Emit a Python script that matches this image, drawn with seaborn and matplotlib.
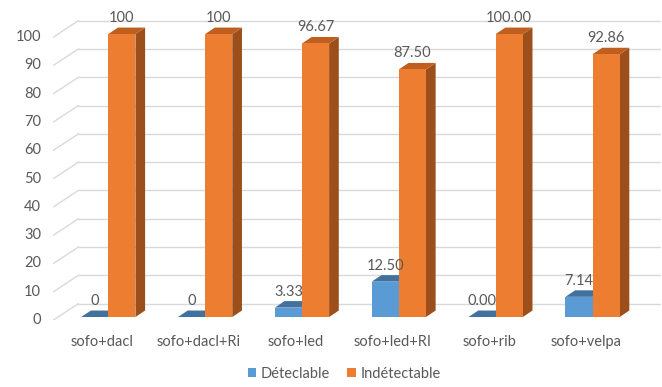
"""
Histogramme 3D (style Excel) : Déteclable / Indétectable par protocole
"""

import pandas as pd
import seaborn as sns
import matplotlib.pyplot as plt
from matplotlib.patches import Polygon, Patch

# Données
categories = ['sofo+dacl', 'sofo+dacl+Ri', 'sofo+led', 'sofo+led+RI', 'sofo+rib', 'sofo+velpa']
series = ['Déteclable', 'Indétectable']
val_detectable = [0, 0, 3.33, 12.50, 0.00, 7.14]
val_indetectable = [100, 100, 96.67, 87.50, 100.00, 92.86]
lab_detectable = ['0', '0', '3.33', '12.50', '0.00', '7.14']
lab_indetectable = ['100', '100', '96.67', '87.50', '100.00', '92.86']
yticks = list(range(0, 101, 10))

# Couleurs (face, dessus, côté)
couleurs = {
    'Déteclable': ('#5b9bd5', '#41719c', '#3a6893'),
    'Indétectable': ('#ed7d31', '#bf5f1f', '#9c4f1b'),
}
gris_texte = '#595959'
gris_grille = '#d9d9d9'

# Profondeur (unités de données)
MUR_X, MUR_Y = 0.258, 5.8      # profondeur du mur du fond
DECAL_X, DECAL_Y = 0.066, 1.05  # décalage de la face avant des barres
PROF_X, PROF_Y = 0.10, 2.3      # épaisseur des barres


def construire_df():
    df = pd.DataFrame({
        'Catégorie': categories * 2,
        'Série': [series[0]] * len(categories) + [series[1]] * len(categories),
        'Valeur': val_detectable + val_indetectable,
    })
    return df


def tracer_grille(ax):
    x0 = -0.5
    x1 = len(categories) - 0.5 + MUR_X
    for v in yticks:
        ax.plot([x0, x0 + MUR_X], [v, v + MUR_Y], color=gris_grille, lw=1, zorder=0)
        ax.plot([x0 + MUR_X, x1], [v + MUR_Y, v + MUR_Y], color=gris_grille, lw=1, zorder=0)


def habiller_barres_3d(ax):
    """Ajoute le dessus, le côté et l'étiquette de chaque barre tracée par seaborn"""
    etiquettes = [lab_detectable, lab_indetectable]
    for s, conteneur in enumerate(ax.containers):
        face, dessus, cote = couleurs[series[s]]
        for i, p in enumerate(conteneur.patches):
            k = 2 * i + s
            x = p.get_x() + DECAL_X
            w = p.get_width()
            h = p.get_height()
            p.set_x(x)
            p.set_y(DECAL_Y)
            p.set_facecolor(face)
            p.set_edgecolor('none')
            p.set_zorder(3 + 3 * k)
            y0, y1 = DECAL_Y, DECAL_Y + h
            ax.add_patch(Polygon([(x + w, y0), (x + w + PROF_X, y0 + PROF_Y),
                                  (x + w + PROF_X, y1 + PROF_Y), (x + w, y1)],
                                 closed=True, facecolor=cote, edgecolor='none', zorder=1 + 3 * k))
            ax.add_patch(Polygon([(x, y1), (x + PROF_X, y1 + PROF_Y),
                                  (x + w + PROF_X, y1 + PROF_Y), (x + w, y1)],
                                 closed=True, facecolor=dessus, edgecolor='none', zorder=2 + 3 * k))
            ax.annotate(etiquettes[s][i], (x + w / 2, y1), xytext=(0, 16),
                        textcoords='offset pixels', ha='center', va='center',
                        fontsize=10.5, color=gris_texte, zorder=100, annotation_clip=False)


def main():
    df = construire_df()

    fig = plt.figure(figsize=(6.62, 3.87), dpi=100)
    sns.set_style('white')
    plt.rcParams['font.family'] = ['Lato', 'DejaVu Sans']

    ax = fig.add_axes([53.5 / 662, 67 / 387, 607 / 662, 305.6 / 387])
    sns.barplot(data=df, x='Catégorie', y='Valeur', hue='Série', hue_order=series,
                palette=[couleurs[s][0] for s in series], width=0.56,
                dodge=True, ax=ax, legend=False, errorbar=None)

    tracer_grille(ax)
    habiller_barres_3d(ax)

    ax.set_xlim(-0.5, len(categories) - 0.5 + MUR_X + 0.01)
    ax.set_ylim(0, 108)
    ax.set_yticks(yticks)
    ax.set_yticklabels([str(v) for v in yticks], fontsize=10.5, color=gris_texte, va='center')
    ax.set_xticks(range(len(categories)))
    ax.set_xticklabels(categories, fontsize=10.5, color=gris_texte)
    ax.tick_params(axis='y', length=0, pad=9)
    ax.tick_params(axis='x', length=0, pad=11)
    ax.set_xlabel('')
    ax.set_ylabel('')
    for s in ax.spines.values():
        s.set_visible(False)

    poignees = [Patch(facecolor=couleurs[s][0], edgecolor='none', label=s) for s in series]
    leg = fig.legend(handles=poignees, loc='center', bbox_to_anchor=(0.52, 13 / 387),
                     ncol=2, frameon=False, fontsize=10.5, handlelength=0.6, handleheight=0.6,
                     handletextpad=0.3, columnspacing=1.2)
    for t in leg.get_texts():
        t.set_color(gris_texte)

    fig.savefig('out.png', dpi=100, facecolor='white')


if __name__ == "__main__":
    main()
